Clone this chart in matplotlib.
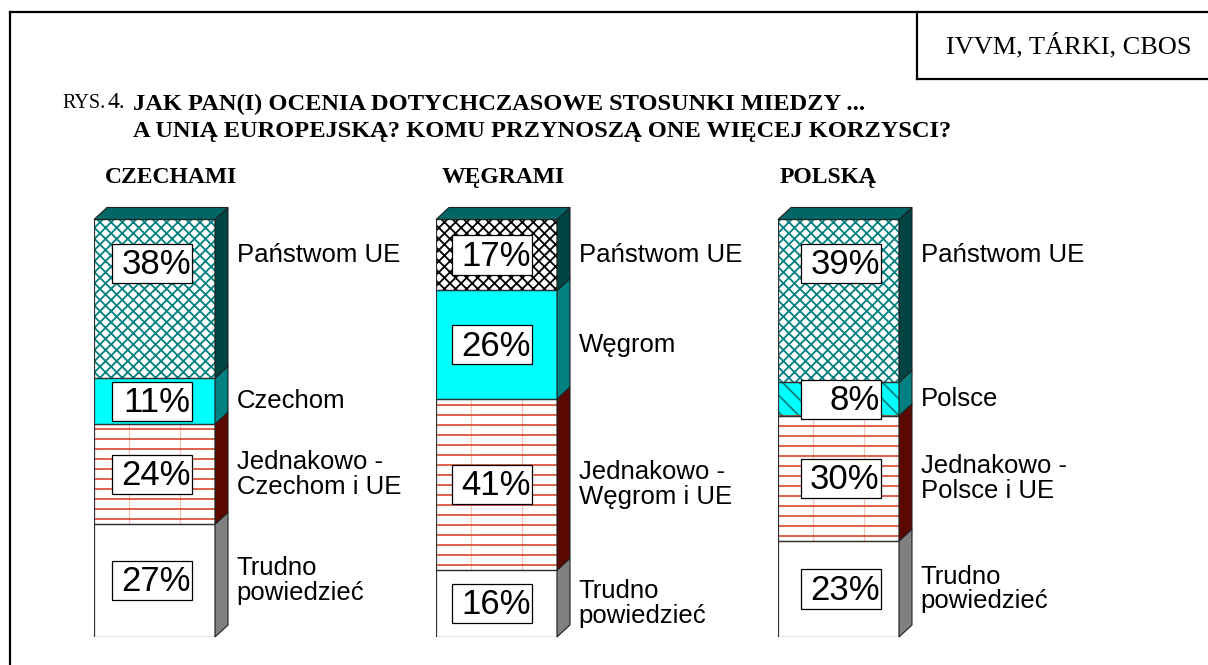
import matplotlib
matplotlib.use("Agg")
import numpy as np
import matplotlib.pyplot as plt
from matplotlib.patches import Polygon, Rectangle
from matplotlib.lines import Line2D

# ---------------- data ----------------
countries = ["CZECHAMI", "WĘGRAMI", "POLSKĄ"]
# segments stacked from bottom to top
trudno = [27, 16, 23]
jednakowo = [24, 41, 30]
own_country = [11, 26, 8]
panstwom_ue = [38, 17, 39]
own_names = ["Czechom", "Węgrom", "Polsce"]
jednakowo_names = ["Jednakowo -\nCzechom i UE", "Jednakowo -\nWęgrom i UE",
                   "Jednakowo -\nPolsce i UE"]
trudno_name = "Trudno\npowiedzieć"
ue_name = "Państwom UE"
source_text = "IVVM, TÁRKI, CBOS"
title_line1 = "JAK PAN(I) OCENIA DOTYCHCZASOWE STOSUNKI MIEDZY ..."
title_line2 = "A UNIĄ EUROPEJSKĄ? KOMU PRZYNOSZĄ ONE WIĘCEJ KORZYSCI?"

# ---------------- layout ----------------
W, H, DPI = 1208, 665, 100
SANS = "Liberation Sans"
SERIF = "Liberation Serif"
plt.rcParams["hatch.linewidth"] = 1.3

fig = plt.figure(figsize=(W / DPI, H / DPI), dpi=DPI)
fig.patch.set_facecolor("white")


def fx(px):
    return px / W


def fy(py):
    return 1 - py / H


# frame lines
for (x0, y0, x1, y1) in [(10, 12, W, 12), (10, 12, 10, H),
                         (917, 12, 917, 79), (917, 79, W, 79)]:
    fig.add_artist(Line2D([fx(x0), fx(x1)], [fy(y0), fy(y1)],
                          color="black", lw=1.6, transform=fig.transFigure))

fig.text(fx(1069), fy(46), source_text, family=SERIF, fontsize=19,
         ha="center", va="center")

# title
fig.text(fx(62), fy(104), "RYS.", family=SERIF, fontsize=14.5, ha="left", va="center")
fig.text(fx(107), fy(103), "4.", family=SERIF, fontsize=17, ha="left", va="center")
fig.text(fx(133), fy(104), title_line1, family=SERIF, fontsize=17.6,
         fontweight="bold", ha="left", va="center")
fig.text(fx(133), fy(132), title_line2, family=SERIF, fontsize=17.6,
         fontweight="bold", ha="left", va="center")

# bar geometry (pixels)
bar_w_px = 121
bar_top_px, bar_bot_px = 219.5, 637
lefts_px = [94, 436, 778]
depth_x = 13 / bar_w_px
depth_y = 12 / (bar_bot_px - bar_top_px) * 100
stripe_step = 10 / (bar_bot_px - bar_top_px) * 100

teal = "#008080"
styles = [
    # trudno
    dict(face="white", hatch=None, hcolor="white", side="#808080"),
    # jednakowo (stripes drawn separately)
    dict(face="white", hatch=None, hcolor="white", side="#5A0800"),
    # own country
    dict(face="#00FFFF", hatch=None, hcolor="#00FFFF", side="#008080"),
    # panstwom UE
    dict(face="white", hatch="xxx", hcolor=teal, side="#004444"),
]
top_face = "#006666"

for i in range(3):
    ax = fig.add_axes([fx(lefts_px[i]), fy(bar_bot_px), bar_w_px / W,
                       (bar_bot_px - bar_top_px) / H])
    ax.set_xlim(0, 1)
    ax.set_ylim(0, 100)
    ax.axis("off")

    values = [trudno[i], jednakowo[i], own_country[i], panstwom_ue[i]]
    names = [trudno_name, jednakowo_names[i], own_names[i], ue_name]
    bottom = 0
    for k, (v, st) in enumerate(zip(values, styles)):
        hatch = st["hatch"]
        hcolor = st["hcolor"]
        if k == 3 and i == 1:
            hcolor = "black"
        if k == 2 and i == 2:
            hatch = "\\\\"
            hcolor = teal
        ax.bar(0.5, v, width=1, bottom=bottom, color=st["face"],
               edgecolor=hcolor, lw=0, hatch=hatch, zorder=1)
        if k == 1:
            ax.vlines([0.29, 0.71], bottom, bottom + v, color="#F1C2B8",
                      lw=0.9, zorder=1.5)
            ys = np.arange(bottom + stripe_step * 0.5, bottom + v, stripe_step)
            ax.hlines(ys, 0, 1, color="#D2391C", lw=1.1, zorder=1.6)
        ax.bar(0.5, v, width=1, bottom=bottom, fill=False,
               edgecolor="#303030", lw=0.9, zorder=2)
        # side face
        side = Polygon([(1, bottom), (1 + depth_x, bottom + depth_y),
                        (1 + depth_x, bottom + v + depth_y), (1, bottom + v)],
                       closed=True, facecolor=st["side"], edgecolor="#202020",
                       lw=0.8, clip_on=False, zorder=2)
        ax.add_patch(side)

        center = bottom + v / 2
        box_y = max(center, 89.5) if k == 3 else center
        lab_y = max(center, 91.5) if k == 3 else center
        bx = [0.48, 0.46, 0.52][i]
        bw, bh = 0.661, 9.35
        ax.add_patch(Rectangle((bx - bw / 2, box_y - bh / 2), bw, bh,
                               facecolor="white", edgecolor="black", lw=0.9,
                               zorder=3, clip_on=False))
        ax.text(bx + bw / 2 - 0.01, box_y - 0.3, f"{v}%", family=SANS,
                fontsize=25, ha="right", va="center", zorder=4)
        ax.text(1.18, lab_y, names[k], family=SANS, fontsize=18.5,
                ha="left", va="center", linespacing=1.05, clip_on=False)
        bottom += v

    top = Polygon([(0, 100), (depth_x, 100 + depth_y),
                   (1 + depth_x, 100 + depth_y), (1, 100)], closed=True,
                  facecolor=top_face, edgecolor="#202020", lw=0.8,
                  clip_on=False, zorder=2)
    ax.add_patch(top)

    ax.text(0.09 - 0.04 * i, (bar_bot_px - 178) / (bar_bot_px - bar_top_px),
            countries[i], transform=ax.transAxes, family=SERIF, fontsize=17,
            fontweight="bold", ha="left", va="center")

fig.savefig("out.png", dpi=DPI, facecolor="white")
